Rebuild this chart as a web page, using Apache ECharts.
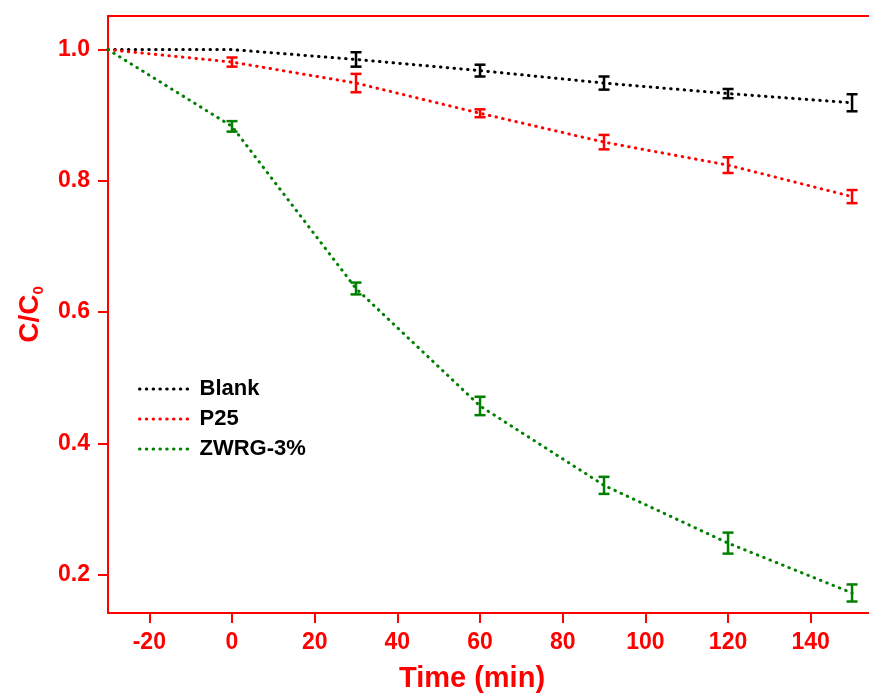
<!DOCTYPE html>
<html>
<head>
<meta charset="utf-8">
<script src="https://cdn.jsdelivr.net/npm/echarts@6/dist/echarts.min.js"></script>
<style>
  html, body { margin: 0; padding: 0; background: #fff; }
  #main { width: 869px; height: 696px; }
</style>
</head>
<body>
<div id="main"></div>
<script>
var times = [-30, 0, 30, 60, 90, 120, 150];
var blank = [1.0, 1.0, 0.985, 0.968, 0.949, 0.933, 0.919];
var blankErr = [0, 0, 0.011, 0.009, 0.010, 0.007, 0.013];
var p25 = [1.0, 0.981, 0.949, 0.903, 0.859, 0.824, 0.776];
var p25Err = [0, 0.007, 0.014, 0.006, 0.011, 0.012, 0.010];
var zwrg = [1.0, 0.883, 0.636, 0.457, 0.336, 0.248, 0.172];
var zwrgErr = [0, 0.008, 0.009, 0.014, 0.013, 0.016, 0.013];
var xTicks = [-20, 0, 20, 40, 60, 80, 100, 120, 140];
var yTicks = [0.2, 0.4, 0.6, 0.8, 1.0];

var names = ['Blank', 'P25', 'ZWRG-3%'];
var colors = ['#000000', '#ff0000', '#008000'];
var values = [blank, p25, zwrg];
var errs = [blankErr, p25Err, zwrgErr];

var dom = document.getElementById('main');
var myChart = echarts.init(dom);

function pairs(ys) {
    return times.map(function (t, i) { return [t, ys[i]]; });
}

function errData(ys, es) {
    var out = [];
    times.forEach(function (t, i) {
        if (es[i] > 0) out.push([t, ys[i], es[i]]);
    });
    return out;
}

function errBars(color) {
    return function (params, api) {
        var x = api.value(0), y = api.value(1), e = api.value(2);
        var lo = api.coord([x, y - e]);
        var hi = api.coord([x, y + e]);
        var w = 5.5;
        var st = { stroke: color, lineWidth: 2.5 };
        return {
            type: 'group',
            children: [
                { type: 'line', shape: { x1: lo[0], y1: lo[1], x2: hi[0], y2: hi[1] }, style: st },
                { type: 'line', shape: { x1: lo[0] - w, y1: lo[1], x2: lo[0] + w, y2: lo[1] }, style: st },
                { type: 'line', shape: { x1: hi[0] - w, y1: hi[1], x2: hi[0] + w, y2: hi[1] }, style: st }
            ]
        };
    };
}

var dots = { width: 3, type: [0.5, 6.3], cap: 'round' };

var series = [];
names.forEach(function (n, k) {
    series.push({
        name: n,
        type: 'line',
        data: pairs(values[k]),
        symbol: 'none',
        silent: true,
        z: 2,
        lineStyle: { color: colors[k], width: dots.width, type: dots.type, cap: dots.cap },
        itemStyle: { color: colors[k] }
    });
});
names.forEach(function (n, k) {
    series.push({
        name: n + ' err',
        type: 'custom',
        data: errData(values[k], errs[k]),
        renderItem: errBars(colors[k]),
        silent: true,
        z: 3
    });
});

var red = '#ff0000';
var font = 'Liberation Sans';
var option = {
    animation: false,
    backgroundColor: '#ffffff',
    grid: { left: 108, top: 16, bottom: 83, right: 0, outerBoundsMode: 'none', containLabel: false },
    legend: {
        data: names,
        orient: 'vertical',
        left: 133, top: 373,
        itemWidth: 52, itemHeight: 14, itemGap: 8,
        itemStyle: { opacity: 0 },
        lineStyle: { width: dots.width, type: dots.type, cap: dots.cap },
        textStyle: { color: '#000', fontSize: 22, fontWeight: 'bold', fontFamily: font, lineHeight: 22, padding: [0, 0, 0, 3] }
    },
    xAxis: [{
        type: 'value',
        min: -30, max: 154.1,
        name: 'Time (min)',
        nameLocation: 'middle',
        nameGap: 51,
        nameTextStyle: { color: red, fontSize: 29, fontWeight: 'bold', fontFamily: font, padding: [0, 33, 0, 0] },
        splitLine: { show: false },
        axisLine: { onZero: false, lineStyle: { color: red, width: 2 } },
        axisTick: { inside: false, length: 10, lineStyle: { color: red, width: 2 }, customValues: xTicks },
        axisLabel: { color: red, fontSize: 23, fontWeight: 'bold', fontFamily: font, margin: 18, customValues: xTicks }
    }, {
        type: 'value',
        position: 'top',
        min: -30, max: 154.1,
        splitLine: { show: false },
        axisLine: { onZero: false, lineStyle: { color: red, width: 2 } },
        axisTick: { show: false },
        axisLabel: { show: false }
    }],
    yAxis: {
        type: 'value',
        min: 0.1415, max: 1.0512,
        name: '{a|C/C}{b|0}',
        nameLocation: 'middle',
        nameRotate: 90,
        nameGap: 62,
        nameTextStyle: {
            color: red, fontWeight: 'bold', fontFamily: font,
            rich: {
                a: { color: red, fontSize: 28, fontWeight: 'bold', fontFamily: font, lineHeight: 30, verticalAlign: 'top' },
                b: { color: red, fontSize: 15, fontWeight: 'bold', fontFamily: font, lineHeight: 15, verticalAlign: 'bottom', padding: [30, 0, 0, 0] }
            }
        },
        splitLine: { show: false },
        axisLine: { onZero: false, lineStyle: { color: red, width: 2 } },
        axisTick: { inside: false, length: 10, lineStyle: { color: red, width: 2 }, customValues: yTicks },
        axisLabel: {
            color: red, fontSize: 23, fontWeight: 'bold', fontFamily: font, margin: 18,
            customValues: yTicks,
            formatter: function (v) { return v.toFixed(1); }
        }
    },
    series: series
};

myChart.setOption(option);
</script>
</body>
</html>
